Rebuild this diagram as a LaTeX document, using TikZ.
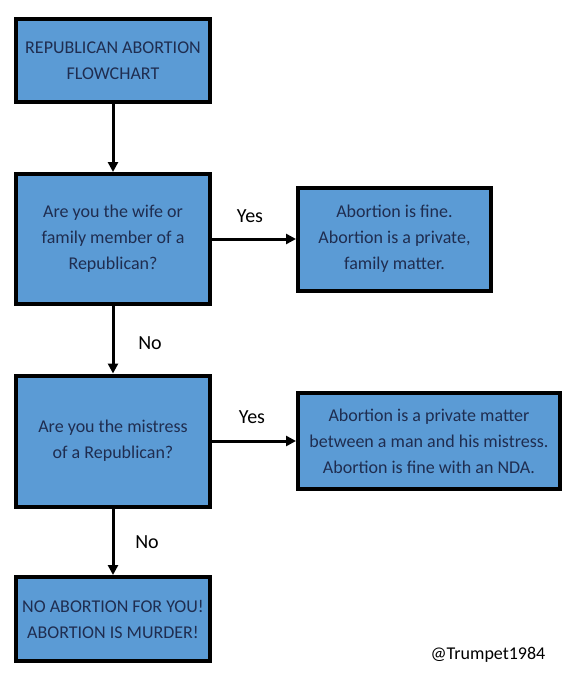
\documentclass[tikz,border=0pt]{standalone}
\usepackage{fontspec}
\setmainfont{Carlito}
\usetikzlibrary{arrows.meta}
\definecolor{boxblue}{HTML}{5B9BD5}
\definecolor{boxtext}{HTML}{1F2D50}

\begin{document}
\begin{tikzpicture}[
  x=1pt, y=-1pt,
  box/.style={draw=black, line width=4pt, fill=boxblue, text=boxtext,
              align=center, inner sep=0pt, minimum width=194pt,
              font=\fontsize{18}{26}\selectfont},
  answer/.style={font=\fontsize{20}{22}\selectfont},
  flow/.style={line width=3pt, -{Triangle[length=10pt,width=10pt]}}
]
  \useasboundingbox (0,0) rectangle (576,680);

  % Left column
  \node[box, minimum height=83pt] (title) at (113, 60.5)
    {REPUBLICAN ABORTION\\FLOWCHART};
  \node[box, minimum height=130pt] (q1) at (113, 239)
    {Are you the wife or\\family member of a\\Republican?};
  \node[box, minimum height=131pt] (q2) at (113, 441)
    {Are you the mistress\\of a Republican?};
  \node[box, minimum height=84pt] (q3) at (113, 619)
    {NO ABORTION FOR YOU!\\ABORTION IS MURDER!};

  % Right column
  \node[box, minimum width=193pt, minimum height=103pt] (a1) at (394.5, 239)
    {Abortion is fine.\\Abortion is a private,\\family matter.};
  \node[box, minimum width=262pt, minimum height=96pt] (a2) at (429, 441)
    {Abortion is a private matter\\between a man and his mistress.\\Abortion is fine with an NDA.};

  % Connectors
  \draw[flow] (title) -- (q1);
  \draw[flow] (q1) -- (q2);
  \draw[flow] (q2) -- (q3);
  \draw[flow] (q1) -- (a1);
  \draw[flow] (q2) -- (a2);

  % Labels
  \node[answer] (yes1) at (250, 216) {Yes};
  \node[answer] (no1) at (150, 343) {No};
  \node[answer] (yes2) at (252, 417) {Yes};
  \node[answer] (no2) at (147, 542) {No};

  \node[font=\fontsize{18}{20}\selectfont] (handle) at (488, 655) {@Trumpet1984};
\end{tikzpicture}
\end{document}
